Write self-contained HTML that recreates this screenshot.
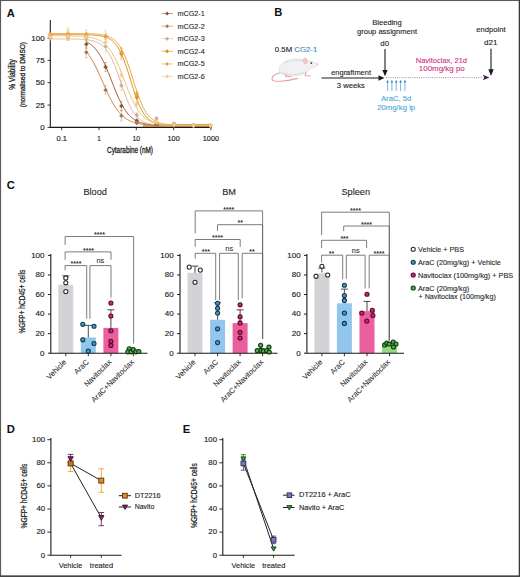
<!DOCTYPE html><html><head><meta charset="utf-8"><style>html,body{margin:0;padding:0;background:#fff;width:520px;height:577px;overflow:hidden}svg{display:block}</style></head><body><svg width="520" height="577" viewBox="0 0 520 577" font-family='"Liberation Sans", sans-serif'>
<rect x="0" y="0" width="520" height="577" fill="#fff"/>
<text x="6.8" y="16.6" font-size="11.2" fill="#111" text-anchor="start" font-weight="bold">A</text>
<path d="M47.5 127.40H50.3" stroke="#222" stroke-width="0.9"/>
<text x="44.6" y="129.9" font-size="7.1" fill="#1e1e1e" text-anchor="end" textLength="4.45" lengthAdjust="spacingAndGlyphs" stroke="#1e1e1e" stroke-width="0.15">0</text>
<path d="M47.5 105.05H50.3" stroke="#222" stroke-width="0.9"/>
<text x="44.6" y="107.55" font-size="7.1" fill="#1e1e1e" text-anchor="end" textLength="8.9" lengthAdjust="spacingAndGlyphs" stroke="#1e1e1e" stroke-width="0.15">25</text>
<path d="M47.5 82.70H50.3" stroke="#222" stroke-width="0.9"/>
<text x="44.6" y="85.2" font-size="7.1" fill="#1e1e1e" text-anchor="end" textLength="8.9" lengthAdjust="spacingAndGlyphs" stroke="#1e1e1e" stroke-width="0.15">50</text>
<path d="M47.5 60.35H50.3" stroke="#222" stroke-width="0.9"/>
<text x="44.6" y="62.85" font-size="7.1" fill="#1e1e1e" text-anchor="end" textLength="8.9" lengthAdjust="spacingAndGlyphs" stroke="#1e1e1e" stroke-width="0.15">75</text>
<path d="M47.5 38.00H50.3" stroke="#222" stroke-width="0.9"/>
<text x="44.6" y="40.5" font-size="7.1" fill="#1e1e1e" text-anchor="end" textLength="13.35" lengthAdjust="spacingAndGlyphs" stroke="#1e1e1e" stroke-width="0.15">100</text>
<path d="M61.70 127.4V130.20000000000002" stroke="#222" stroke-width="0.9"/>
<text x="61.7" y="140.8" font-size="7.1" fill="#1e1e1e" text-anchor="middle" textLength="10.5" lengthAdjust="spacingAndGlyphs" stroke="#1e1e1e" stroke-width="0.15">0.1</text>
<path d="M99.00 127.4V130.20000000000002" stroke="#222" stroke-width="0.9"/>
<text x="99.0" y="140.8" font-size="7.1" fill="#1e1e1e" text-anchor="middle" textLength="3.5" lengthAdjust="spacingAndGlyphs" stroke="#1e1e1e" stroke-width="0.15">1</text>
<path d="M136.30 127.4V130.20000000000002" stroke="#222" stroke-width="0.9"/>
<text x="136.3" y="140.8" font-size="7.1" fill="#1e1e1e" text-anchor="middle" textLength="7.6" lengthAdjust="spacingAndGlyphs" stroke="#1e1e1e" stroke-width="0.15">10</text>
<path d="M173.60 127.4V130.20000000000002" stroke="#222" stroke-width="0.9"/>
<text x="173.6" y="140.8" font-size="7.1" fill="#1e1e1e" text-anchor="middle" textLength="12.3" lengthAdjust="spacingAndGlyphs" stroke="#1e1e1e" stroke-width="0.15">100</text>
<path d="M210.90 127.4V130.20000000000002" stroke="#222" stroke-width="0.9"/>
<text x="210.9" y="140.8" font-size="7.1" fill="#1e1e1e" text-anchor="middle" textLength="16.3" lengthAdjust="spacingAndGlyphs" stroke="#1e1e1e" stroke-width="0.15">1000</text>
<text x="130" y="153.3" font-size="8.2" fill="#1e1e1e" text-anchor="middle" textLength="46" lengthAdjust="spacingAndGlyphs" stroke="#1e1e1e" stroke-width="0.3">Cytarabine (nM)</text>
<text transform="translate(15.2,74.4) rotate(-90)" font-size="8.3" fill="#1e1e1e" text-anchor="middle" textLength="30.5" lengthAdjust="spacingAndGlyphs" stroke="#1e1e1e" stroke-width="0.3">% Viability</text>
<text transform="translate(25.2,74.6) rotate(-90)" font-size="7.6" fill="#1e1e1e" text-anchor="middle" textLength="65.3" lengthAdjust="spacingAndGlyphs" stroke="#1e1e1e" stroke-width="0.3">(normalised to DMSO)</text>
<path d="M143 125.4H211" stroke="#e09535" stroke-width="2.6" opacity="0.9"/>
<polyline points="86.3,41.82 87.3,42.32 88.3,42.87 89.3,43.48 90.3,44.16 91.3,44.91 92.3,45.73 93.3,46.64 94.3,47.63 95.3,48.71 96.3,49.90 97.3,51.18 98.3,52.58 99.3,54.08 100.3,55.70 101.3,57.43 102.3,59.28 103.3,61.24 104.3,63.30 105.3,65.47 106.3,67.73 107.3,70.08 108.3,72.50 109.3,74.98 110.3,77.50 111.3,80.05 112.3,82.61 113.3,85.16 114.3,87.69 115.3,90.17 116.3,92.61 117.3,94.97 118.3,97.25 119.3,99.44 120.3,101.52 121.3,103.50 122.3,105.37 123.3,107.13 124.3,108.77 125.3,110.30 126.3,111.71 127.3,113.02 128.3,114.22 129.3,115.33 130.3,116.34 131.3,117.26 132.3,118.10 133.3,118.86 134.3,119.55 135.3,120.17 136.3,120.74 137.3,121.25 138.3,121.70 139.3,122.12 140.3,122.49 141.3,122.82 142.3,123.12 143.3,123.38 144.3,123.62 145.3,123.84 146.3,124.03 147.3,124.20 148.3,124.35 149.3,124.49 150.3,124.61 151.3,124.72 152.3,124.82 153.3,124.90 154.3,124.98 155.3,125.05 156.3,125.11 157.3,125.17 158.3,125.21 159.3,125.26 160.3,125.30 161.3,125.33 162.3,125.36 163.3,125.39 164.3,125.41 165.3,125.44 166.3,125.45 167.3,125.47 168.3,125.49 169.3,125.50 170.3,125.51 171.3,125.52 172.3,125.53 173.3,125.54 174.3,125.55 175.3,125.56 176.3,125.56 177.3,125.57 178.3,125.57 179.3,125.58 180.3,125.58 181.3,125.58 182.3,125.59 183.3,125.59 184.3,125.59 185.3,125.59 186.3,125.60 187.3,125.60 188.3,125.60 189.3,125.60 190.3,125.60 191.3,125.60 192.3,125.60 193.3,125.61 194.3,125.61 195.3,125.61 196.3,125.61 197.3,125.61 198.3,125.61 199.3,125.61 200.3,125.61 201.3,125.61 202.3,125.61 203.3,125.61 204.3,125.61 205.3,125.61 206.3,125.61 207.3,125.61 208.3,125.61 209.3,125.61 210.3,125.61" fill="none" stroke="#9a6035" stroke-width="1"/>
<polyline points="86.3,51.56 87.3,52.79 88.3,54.12 89.3,55.53 90.3,57.04 91.3,58.64 92.3,60.33 93.3,62.10 94.3,63.97 95.3,65.91 96.3,67.93 97.3,70.01 98.3,72.16 99.3,74.35 100.3,76.58 101.3,78.84 102.3,81.12 103.3,83.40 104.3,85.67 105.3,87.93 106.3,90.14 107.3,92.32 108.3,94.44 109.3,96.50 110.3,98.49 111.3,100.40 112.3,102.23 113.3,103.97 114.3,105.62 115.3,107.18 116.3,108.65 117.3,110.03 118.3,111.32 119.3,112.53 120.3,113.64 121.3,114.68 122.3,115.64 123.3,116.52 124.3,117.34 125.3,118.08 126.3,118.77 127.3,119.40 128.3,119.98 129.3,120.50 130.3,120.98 131.3,121.42 132.3,121.81 133.3,122.17 134.3,122.50 135.3,122.80 136.3,123.07 137.3,123.31 138.3,123.54 139.3,123.74 140.3,123.92 141.3,124.08 142.3,124.23 143.3,124.37 144.3,124.49 145.3,124.60 146.3,124.70 147.3,124.79 148.3,124.87 149.3,124.94 150.3,125.01 151.3,125.07 152.3,125.12 153.3,125.17 154.3,125.21 155.3,125.25 156.3,125.29 157.3,125.32 158.3,125.35 159.3,125.37 160.3,125.40 161.3,125.42 162.3,125.44 163.3,125.46 164.3,125.47 165.3,125.48 166.3,125.50 167.3,125.51 168.3,125.52 169.3,125.53 170.3,125.54 171.3,125.54 172.3,125.55 173.3,125.56 174.3,125.56 175.3,125.57 176.3,125.57 177.3,125.58 178.3,125.58 179.3,125.58 180.3,125.59 181.3,125.59 182.3,125.59 183.3,125.59 184.3,125.59 185.3,125.60 186.3,125.60 187.3,125.60 188.3,125.60 189.3,125.60 190.3,125.60 191.3,125.60 192.3,125.60 193.3,125.61 194.3,125.61 195.3,125.61 196.3,125.61 197.3,125.61 198.3,125.61 199.3,125.61 200.3,125.61 201.3,125.61 202.3,125.61 203.3,125.61 204.3,125.61 205.3,125.61 206.3,125.61 207.3,125.61 208.3,125.61 209.3,125.61 210.3,125.61" fill="none" stroke="#c88545" stroke-width="1"/>
<polyline points="50.3,38.90 51.3,38.90 52.3,38.90 53.3,38.90 54.3,38.90 55.3,38.91 56.3,38.91 57.3,38.91 58.3,38.91 59.3,38.92 60.3,38.92 61.3,38.92 62.3,38.93 63.3,38.93 64.3,38.94 65.3,38.94 66.3,38.95 67.3,38.96 68.3,38.97 69.3,38.98 70.3,38.99 71.3,39.00 72.3,39.02 73.3,39.04 74.3,39.06 75.3,39.08 76.3,39.11 77.3,39.14 78.3,39.17 79.3,39.21 80.3,39.26 81.3,39.31 82.3,39.37 83.3,39.44 84.3,39.51 85.3,39.60 86.3,39.71 87.3,39.82 88.3,39.95 89.3,40.11 90.3,40.28 91.3,40.47 92.3,40.70 93.3,40.95 94.3,41.24 95.3,41.57 96.3,41.95 97.3,42.37 98.3,42.85 99.3,43.39 100.3,44.01 101.3,44.70 102.3,45.47 103.3,46.34 104.3,47.32 105.3,48.40 106.3,49.61 107.3,50.94 108.3,52.41 109.3,54.03 110.3,55.79 111.3,57.70 112.3,59.77 113.3,61.99 114.3,64.35 115.3,66.84 116.3,69.46 117.3,72.19 118.3,75.00 119.3,77.87 120.3,80.79 121.3,83.72 122.3,86.63 123.3,89.51 124.3,92.32 125.3,95.04 126.3,97.66 127.3,100.16 128.3,102.52 129.3,104.74 130.3,106.80 131.3,108.72 132.3,110.48 133.3,112.09 134.3,113.57 135.3,114.90 136.3,116.11 137.3,117.19 138.3,118.16 139.3,119.03 140.3,119.81 141.3,120.50 142.3,121.11 143.3,121.66 144.3,122.14 145.3,122.56 146.3,122.93 147.3,123.26 148.3,123.55 149.3,123.81 150.3,124.03 151.3,124.23 152.3,124.40 153.3,124.55 154.3,124.68 155.3,124.80 156.3,124.90 157.3,124.99 158.3,125.07 159.3,125.14 160.3,125.20 161.3,125.25 162.3,125.30 163.3,125.34 164.3,125.37 165.3,125.40 166.3,125.43 167.3,125.45 168.3,125.47 169.3,125.49 170.3,125.50 171.3,125.52 172.3,125.53 173.3,125.54 174.3,125.55 175.3,125.56 176.3,125.56 177.3,125.57 178.3,125.58 179.3,125.58 180.3,125.58 181.3,125.59 182.3,125.59 183.3,125.59 184.3,125.60 185.3,125.60 186.3,125.60 187.3,125.60 188.3,125.60 189.3,125.60 190.3,125.60 191.3,125.61 192.3,125.61 193.3,125.61 194.3,125.61 195.3,125.61 196.3,125.61 197.3,125.61 198.3,125.61 199.3,125.61 200.3,125.61 201.3,125.61 202.3,125.61 203.3,125.61 204.3,125.61 205.3,125.61 206.3,125.61 207.3,125.61 208.3,125.61 209.3,125.61 210.3,125.61" fill="none" stroke="#e8b890" stroke-width="1"/>
<polyline points="50.3,34.60 51.3,34.60 52.3,34.60 53.3,34.60 54.3,34.60 55.3,34.60 56.3,34.61 57.3,34.61 58.3,34.61 59.3,34.61 60.3,34.61 61.3,34.61 62.3,34.61 63.3,34.61 64.3,34.61 65.3,34.61 66.3,34.61 67.3,34.61 68.3,34.62 69.3,34.62 70.3,34.62 71.3,34.62 72.3,34.62 73.3,34.63 74.3,34.63 75.3,34.64 76.3,34.64 77.3,34.65 78.3,34.65 79.3,34.66 80.3,34.67 81.3,34.68 82.3,34.69 83.3,34.71 84.3,34.72 85.3,34.74 86.3,34.76 87.3,34.79 88.3,34.82 89.3,34.85 90.3,34.89 91.3,34.93 92.3,34.98 93.3,35.04 94.3,35.11 95.3,35.19 96.3,35.28 97.3,35.38 98.3,35.50 99.3,35.63 100.3,35.79 101.3,35.97 102.3,36.17 103.3,36.41 104.3,36.68 105.3,36.99 106.3,37.35 107.3,37.75 108.3,38.22 109.3,38.75 110.3,39.35 111.3,40.03 112.3,40.81 113.3,41.69 114.3,42.68 115.3,43.80 116.3,45.05 117.3,46.44 118.3,47.99 119.3,49.71 120.3,51.60 121.3,53.66 122.3,55.90 123.3,58.32 124.3,60.91 125.3,63.66 126.3,66.55 127.3,69.58 128.3,72.70 129.3,75.89 130.3,79.13 131.3,82.38 132.3,85.61 133.3,88.78 134.3,91.86 135.3,94.83 136.3,97.67 137.3,100.36 138.3,102.88 139.3,105.23 140.3,107.40 141.3,109.39 142.3,111.21 143.3,112.86 144.3,114.35 145.3,115.68 146.3,116.88 147.3,117.94 148.3,118.89 149.3,119.73 150.3,120.46 151.3,121.12 152.3,121.69 153.3,122.19 154.3,122.63 155.3,123.02 156.3,123.35 157.3,123.65 158.3,123.90 159.3,124.13 160.3,124.32 161.3,124.49 162.3,124.64 163.3,124.77 164.3,124.88 165.3,124.98 166.3,125.06 167.3,125.13 168.3,125.20 169.3,125.25 170.3,125.30 171.3,125.34 172.3,125.38 173.3,125.41 174.3,125.44 175.3,125.46 176.3,125.48 177.3,125.50 178.3,125.51 179.3,125.53 180.3,125.54 181.3,125.55 182.3,125.56 183.3,125.56 184.3,125.57 185.3,125.58 186.3,125.58 187.3,125.58 188.3,125.59 189.3,125.59 190.3,125.59 191.3,125.60 192.3,125.60 193.3,125.60 194.3,125.60 195.3,125.60 196.3,125.60 197.3,125.61 198.3,125.61 199.3,125.61 200.3,125.61 201.3,125.61 202.3,125.61 203.3,125.61 204.3,125.61 205.3,125.61 206.3,125.61 207.3,125.61 208.3,125.61 209.3,125.61 210.3,125.61" fill="none" stroke="#dc9418" stroke-width="1"/>
<polyline points="50.3,33.53 51.3,33.53 52.3,33.53 53.3,33.53 54.3,33.53 55.3,33.53 56.3,33.53 57.3,33.53 58.3,33.53 59.3,33.53 60.3,33.53 61.3,33.53 62.3,33.53 63.3,33.54 64.3,33.54 65.3,33.54 66.3,33.54 67.3,33.54 68.3,33.54 69.3,33.54 70.3,33.55 71.3,33.55 72.3,33.55 73.3,33.55 74.3,33.56 75.3,33.56 76.3,33.56 77.3,33.57 78.3,33.58 79.3,33.58 80.3,33.59 81.3,33.60 82.3,33.61 83.3,33.62 84.3,33.64 85.3,33.65 86.3,33.67 87.3,33.69 88.3,33.71 89.3,33.74 90.3,33.77 91.3,33.81 92.3,33.85 93.3,33.90 94.3,33.95 95.3,34.02 96.3,34.09 97.3,34.17 98.3,34.26 99.3,34.37 100.3,34.50 101.3,34.64 102.3,34.80 103.3,34.99 104.3,35.20 105.3,35.44 106.3,35.72 107.3,36.04 108.3,36.40 109.3,36.82 110.3,37.29 111.3,37.82 112.3,38.42 113.3,39.11 114.3,39.88 115.3,40.75 116.3,41.73 117.3,42.83 118.3,44.06 119.3,45.42 120.3,46.94 121.3,48.61 122.3,50.44 123.3,52.44 124.3,54.61 125.3,56.94 126.3,59.45 127.3,62.10 128.3,64.90 129.3,67.83 130.3,70.86 131.3,73.96 132.3,77.12 133.3,80.30 134.3,83.47 135.3,86.60 136.3,89.67 137.3,92.64 138.3,95.49 139.3,98.20 140.3,100.77 141.3,103.17 142.3,105.41 143.3,107.48 144.3,109.38 145.3,111.11 146.3,112.68 147.3,114.11 148.3,115.39 149.3,116.54 150.3,117.56 151.3,118.48 152.3,119.29 153.3,120.01 154.3,120.64 155.3,121.20 156.3,121.70 157.3,122.13 158.3,122.51 159.3,122.85 160.3,123.14 161.3,123.40 162.3,123.63 163.3,123.82 164.3,123.99 165.3,124.14 166.3,124.28 167.3,124.39 168.3,124.49 169.3,124.58 170.3,124.65 171.3,124.72 172.3,124.78 173.3,124.83 174.3,124.87 175.3,124.91 176.3,124.94 177.3,124.97 178.3,125.00 179.3,125.02 180.3,125.04 181.3,125.05 182.3,125.07 183.3,125.08 184.3,125.09 185.3,125.10 186.3,125.11 187.3,125.12 188.3,125.12 189.3,125.13 190.3,125.13 191.3,125.14 192.3,125.14 193.3,125.14 194.3,125.15 195.3,125.15 196.3,125.15 197.3,125.15 198.3,125.15 199.3,125.16 200.3,125.16 201.3,125.16 202.3,125.16 203.3,125.16 204.3,125.16 205.3,125.16 206.3,125.16 207.3,125.16 208.3,125.16 209.3,125.16 210.3,125.16" fill="none" stroke="#eba445" stroke-width="1"/>
<polyline points="50.3,35.78 51.3,35.78 52.3,35.79 53.3,35.79 54.3,35.79 55.3,35.79 56.3,35.80 57.3,35.80 58.3,35.81 59.3,35.81 60.3,35.82 61.3,35.82 62.3,35.83 63.3,35.84 64.3,35.85 65.3,35.86 66.3,35.87 67.3,35.88 68.3,35.90 69.3,35.91 70.3,35.93 71.3,35.95 72.3,35.97 73.3,36.00 74.3,36.03 75.3,36.06 76.3,36.09 77.3,36.13 78.3,36.18 79.3,36.23 80.3,36.29 81.3,36.35 82.3,36.42 83.3,36.51 84.3,36.60 85.3,36.70 86.3,36.81 87.3,36.94 88.3,37.08 89.3,37.24 90.3,37.42 91.3,37.62 92.3,37.84 93.3,38.09 94.3,38.37 95.3,38.68 96.3,39.03 97.3,39.41 98.3,39.84 99.3,40.32 100.3,40.85 101.3,41.44 102.3,42.09 103.3,42.80 104.3,43.60 105.3,44.47 106.3,45.43 107.3,46.48 108.3,47.62 109.3,48.87 110.3,50.23 111.3,51.69 112.3,53.27 113.3,54.97 114.3,56.79 115.3,58.72 116.3,60.76 117.3,62.91 118.3,65.16 119.3,67.51 120.3,69.93 121.3,72.43 122.3,74.97 123.3,77.56 124.3,80.17 125.3,82.78 126.3,85.37 127.3,87.94 128.3,90.46 129.3,92.91 130.3,95.29 131.3,97.58 132.3,99.77 133.3,101.86 134.3,103.83 135.3,105.69 136.3,107.44 137.3,109.07 138.3,110.58 139.3,111.98 140.3,113.27 141.3,114.46 142.3,115.54 143.3,116.54 144.3,117.44 145.3,118.27 146.3,119.01 147.3,119.69 148.3,120.30 149.3,120.85 150.3,121.35 151.3,121.80 152.3,122.20 153.3,122.56 154.3,122.89 155.3,123.18 156.3,123.44 157.3,123.67 158.3,123.88 159.3,124.07 160.3,124.24 161.3,124.38 162.3,124.52 163.3,124.64 164.3,124.74 165.3,124.84 166.3,124.92 167.3,125.00 168.3,125.06 169.3,125.12 170.3,125.18 171.3,125.22 172.3,125.27 173.3,125.30 174.3,125.34 175.3,125.37 176.3,125.39 177.3,125.42 178.3,125.44 179.3,125.46 180.3,125.48 181.3,125.49 182.3,125.50 183.3,125.52 184.3,125.53 185.3,125.54 186.3,125.54 187.3,125.55 188.3,125.56 189.3,125.56 190.3,125.57 191.3,125.57 192.3,125.58 193.3,125.58 194.3,125.59 195.3,125.59 196.3,125.59 197.3,125.59 198.3,125.60 199.3,125.60 200.3,125.60 201.3,125.60 202.3,125.60 203.3,125.60 204.3,125.60 205.3,125.60 206.3,125.61 207.3,125.61 208.3,125.61 209.3,125.61 210.3,125.61" fill="none" stroke="#f0c080" stroke-width="1"/>
<path d="M50.3 20V127.4H211.5" fill="none" stroke="#1a1a1a" stroke-width="1.1"/>
<path d="M86.3 40.1V48.4M84.89999999999999 40.1h2.8M84.89999999999999 48.4h2.8" stroke="#8a5530" stroke-width="0.7" opacity="0.55"/>
<rect x="84.7" y="42.7" width="3.2" height="3.2" fill="#8a5530" transform="rotate(45 86.3 44.3)"/>
<path d="M105.6 62.5V71.7M104.19999999999999 62.5h2.8M104.19999999999999 71.7h2.8" stroke="#8a5530" stroke-width="0.7" opacity="0.55"/>
<rect x="104.0" y="65.5" width="3.2" height="3.2" fill="#8a5530" transform="rotate(45 105.6 67.1)"/>
<path d="M121.4 101.2V110.7M120.0 101.2h2.8M120.0 110.7h2.8" stroke="#8a5530" stroke-width="0.7" opacity="0.55"/>
<rect x="119.80000000000001" y="104.3" width="3.2" height="3.2" fill="#8a5530" transform="rotate(45 121.4 105.9)"/>
<path d="M136.8 119.2V122.2M135.4 119.2h2.8M135.4 122.2h2.8" stroke="#8a5530" stroke-width="0.7" opacity="0.55"/>
<rect x="135.20000000000002" y="119.1" width="3.2" height="3.2" fill="#8a5530" transform="rotate(45 136.8 120.7)"/>
<path d="M156.5 123.4V126.1M155.1 123.4h2.8M155.1 126.1h2.8" stroke="#8a5530" stroke-width="0.7" opacity="0.55"/>
<rect x="154.9" y="123.1" width="3.2" height="3.2" fill="#8a5530" transform="rotate(45 156.5 124.7)"/>
<path d="M174 123.6V126.7M172.6 123.6h2.8M172.6 126.7h2.8" stroke="#8a5530" stroke-width="0.7" opacity="0.55"/>
<rect x="172.4" y="123.6" width="3.2" height="3.2" fill="#8a5530" transform="rotate(45 174 125.2)"/>
<path d="M193.5 125.0V126.2M192.1 125.0h2.8M192.1 126.2h2.8" stroke="#8a5530" stroke-width="0.7" opacity="0.55"/>
<rect x="191.9" y="124.0" width="3.2" height="3.2" fill="#8a5530" transform="rotate(45 193.5 125.6)"/>
<path d="M210.5 124.5V126.7M209.1 124.5h2.8M209.1 126.7h2.8" stroke="#8a5530" stroke-width="0.7" opacity="0.55"/>
<rect x="208.9" y="124.0" width="3.2" height="3.2" fill="#8a5530" transform="rotate(45 210.5 125.6)"/>
<path d="M86.3 47.0V57.6M84.89999999999999 47.0h2.8M84.89999999999999 57.6h2.8" stroke="#a87850" stroke-width="0.7" opacity="0.55"/>
<rect x="84.7" y="50.7" width="3.2" height="3.2" fill="#a87850" transform="rotate(45 86.3 52.3)"/>
<path d="M105.6 85.6V94.1M104.19999999999999 85.6h2.8M104.19999999999999 94.1h2.8" stroke="#a87850" stroke-width="0.7" opacity="0.55"/>
<rect x="104.0" y="88.3" width="3.2" height="3.2" fill="#a87850" transform="rotate(45 105.6 89.9)"/>
<path d="M121.4 110.6V120.9M120.0 110.6h2.8M120.0 120.9h2.8" stroke="#a87850" stroke-width="0.7" opacity="0.55"/>
<rect x="119.80000000000001" y="114.2" width="3.2" height="3.2" fill="#a87850" transform="rotate(45 121.4 115.8)"/>
<path d="M136.8 122.2V123.6M135.4 122.2h2.8M135.4 123.6h2.8" stroke="#a87850" stroke-width="0.7" opacity="0.55"/>
<rect x="135.20000000000002" y="121.3" width="3.2" height="3.2" fill="#a87850" transform="rotate(45 136.8 122.9)"/>
<path d="M156.5 124.1V126.2M155.1 124.1h2.8M155.1 126.2h2.8" stroke="#a87850" stroke-width="0.7" opacity="0.55"/>
<rect x="154.9" y="123.6" width="3.2" height="3.2" fill="#a87850" transform="rotate(45 156.5 125.2)"/>
<path d="M174 124.8V126.5M172.6 124.8h2.8M172.6 126.5h2.8" stroke="#a87850" stroke-width="0.7" opacity="0.55"/>
<rect x="172.4" y="124.0" width="3.2" height="3.2" fill="#a87850" transform="rotate(45 174 125.6)"/>
<path d="M193.5 124.5V126.8M192.1 124.5h2.8M192.1 126.8h2.8" stroke="#a87850" stroke-width="0.7" opacity="0.55"/>
<rect x="191.9" y="124.0" width="3.2" height="3.2" fill="#a87850" transform="rotate(45 193.5 125.6)"/>
<path d="M210.5 124.4V126.8M209.1 124.4h2.8M209.1 126.8h2.8" stroke="#a87850" stroke-width="0.7" opacity="0.55"/>
<rect x="208.9" y="124.0" width="3.2" height="3.2" fill="#a87850" transform="rotate(45 210.5 125.6)"/>
<path d="M50.3 36.0V40.0M48.9 36.0h2.8M48.9 40.0h2.8" stroke="#c8ab98" stroke-width="0.7" opacity="0.55"/>
<rect x="48.699999999999996" y="36.4" width="3.2" height="3.2" fill="#c8ab98" transform="rotate(45 50.3 38.0)"/>
<path d="M68 34.3V39.9M66.6 34.3h2.8M66.6 39.9h2.8" stroke="#c8ab98" stroke-width="0.7" opacity="0.55"/>
<rect x="66.4" y="35.5" width="3.2" height="3.2" fill="#c8ab98" transform="rotate(45 68 37.1)"/>
<path d="M86.3 35.0V41.0M84.89999999999999 35.0h2.8M84.89999999999999 41.0h2.8" stroke="#c8ab98" stroke-width="0.7" opacity="0.55"/>
<rect x="84.7" y="36.4" width="3.2" height="3.2" fill="#c8ab98" transform="rotate(45 86.3 38.0)"/>
<path d="M105.6 41.3V51.7M104.19999999999999 41.3h2.8M104.19999999999999 51.7h2.8" stroke="#c8ab98" stroke-width="0.7" opacity="0.55"/>
<rect x="104.0" y="44.9" width="3.2" height="3.2" fill="#c8ab98" transform="rotate(45 105.6 46.5)"/>
<path d="M121.4 80.7V90.1M120.0 80.7h2.8M120.0 90.1h2.8" stroke="#c8ab98" stroke-width="0.7" opacity="0.55"/>
<rect x="119.80000000000001" y="83.8" width="3.2" height="3.2" fill="#c8ab98" transform="rotate(45 121.4 85.4)"/>
<path d="M136.8 112.3V117.4M135.4 112.3h2.8M135.4 117.4h2.8" stroke="#c8ab98" stroke-width="0.7" opacity="0.55"/>
<rect x="135.20000000000002" y="113.3" width="3.2" height="3.2" fill="#c8ab98" transform="rotate(45 136.8 114.9)"/>
<path d="M156.5 117.1V119.9M155.1 117.1h2.8M155.1 119.9h2.8" stroke="#c8ab98" stroke-width="0.7" opacity="0.55"/>
<rect x="154.9" y="116.9" width="3.2" height="3.2" fill="#c8ab98" transform="rotate(45 156.5 118.5)"/>
<path d="M174 124.0V125.5M172.6 124.0h2.8M172.6 125.5h2.8" stroke="#c8ab98" stroke-width="0.7" opacity="0.55"/>
<rect x="172.4" y="123.1" width="3.2" height="3.2" fill="#c8ab98" transform="rotate(45 174 124.7)"/>
<path d="M193.5 124.4V126.8M192.1 124.4h2.8M192.1 126.8h2.8" stroke="#c8ab98" stroke-width="0.7" opacity="0.55"/>
<rect x="191.9" y="124.0" width="3.2" height="3.2" fill="#c8ab98" transform="rotate(45 193.5 125.6)"/>
<path d="M210.5 124.9V126.3M209.1 124.9h2.8M209.1 126.3h2.8" stroke="#c8ab98" stroke-width="0.7" opacity="0.55"/>
<rect x="208.9" y="124.0" width="3.2" height="3.2" fill="#c8ab98" transform="rotate(45 210.5 125.6)"/>
<path d="M50.3 33.3V37.3M48.9 33.3h2.8M48.9 37.3h2.8" stroke="#d8900c" stroke-width="0.7" opacity="0.55"/>
<rect x="48.699999999999996" y="33.7" width="3.2" height="3.2" fill="#d8900c" transform="rotate(45 50.3 35.3)"/>
<path d="M68 30.3V40.4M66.6 30.3h2.8M66.6 40.4h2.8" stroke="#d8900c" stroke-width="0.7" opacity="0.55"/>
<rect x="66.4" y="33.7" width="3.2" height="3.2" fill="#d8900c" transform="rotate(45 68 35.3)"/>
<path d="M86.3 32.6V38.1M84.89999999999999 32.6h2.8M84.89999999999999 38.1h2.8" stroke="#d8900c" stroke-width="0.7" opacity="0.55"/>
<rect x="84.7" y="33.7" width="3.2" height="3.2" fill="#d8900c" transform="rotate(45 86.3 35.3)"/>
<path d="M105.6 33.9V39.4M104.19999999999999 33.9h2.8M104.19999999999999 39.4h2.8" stroke="#d8900c" stroke-width="0.7" opacity="0.55"/>
<rect x="104.0" y="35.1" width="3.2" height="3.2" fill="#d8900c" transform="rotate(45 105.6 36.7)"/>
<path d="M121.4 48.7V59.5M120.0 48.7h2.8M120.0 59.5h2.8" stroke="#d8900c" stroke-width="0.7" opacity="0.55"/>
<rect x="119.80000000000001" y="52.5" width="3.2" height="3.2" fill="#d8900c" transform="rotate(45 121.4 54.1)"/>
<path d="M136.8 92.4V102.5M135.4 92.4h2.8M135.4 102.5h2.8" stroke="#d8900c" stroke-width="0.7" opacity="0.55"/>
<rect x="135.20000000000002" y="95.9" width="3.2" height="3.2" fill="#d8900c" transform="rotate(45 136.8 97.5)"/>
<path d="M156.5 122.0V123.8M155.1 122.0h2.8M155.1 123.8h2.8" stroke="#d8900c" stroke-width="0.7" opacity="0.55"/>
<rect x="154.9" y="121.3" width="3.2" height="3.2" fill="#d8900c" transform="rotate(45 156.5 122.9)"/>
<path d="M174 122.3V125.4M172.6 122.3h2.8M172.6 125.4h2.8" stroke="#d8900c" stroke-width="0.7" opacity="0.55"/>
<rect x="172.4" y="122.2" width="3.2" height="3.2" fill="#d8900c" transform="rotate(45 174 123.8)"/>
<path d="M193.5 124.0V126.3M192.1 124.0h2.8M192.1 126.3h2.8" stroke="#d8900c" stroke-width="0.7" opacity="0.55"/>
<rect x="191.9" y="123.6" width="3.2" height="3.2" fill="#d8900c" transform="rotate(45 193.5 125.2)"/>
<path d="M210.5 124.3V126.9M209.1 124.3h2.8M209.1 126.9h2.8" stroke="#d8900c" stroke-width="0.7" opacity="0.55"/>
<rect x="208.9" y="124.0" width="3.2" height="3.2" fill="#d8900c" transform="rotate(45 210.5 125.6)"/>
<path d="M50.3 31.7V37.1M48.9 31.7h2.8M48.9 37.1h2.8" stroke="#e8a048" stroke-width="0.7" opacity="0.55"/>
<rect x="48.699999999999996" y="32.8" width="3.2" height="3.2" fill="#e8a048" transform="rotate(45 50.3 34.4)"/>
<path d="M68 28.2V38.8M66.6 28.2h2.8M66.6 38.8h2.8" stroke="#e8a048" stroke-width="0.7" opacity="0.55"/>
<rect x="66.4" y="31.9" width="3.2" height="3.2" fill="#e8a048" transform="rotate(45 68 33.5)"/>
<path d="M86.3 30.0V38.8M84.89999999999999 30.0h2.8M84.89999999999999 38.8h2.8" stroke="#e8a048" stroke-width="0.7" opacity="0.55"/>
<rect x="84.7" y="32.8" width="3.2" height="3.2" fill="#e8a048" transform="rotate(45 86.3 34.4)"/>
<path d="M105.6 30.8V41.6M104.19999999999999 30.8h2.8M104.19999999999999 41.6h2.8" stroke="#e8a048" stroke-width="0.7" opacity="0.55"/>
<rect x="104.0" y="34.6" width="3.2" height="3.2" fill="#e8a048" transform="rotate(45 105.6 36.2)"/>
<path d="M121.4 47.2V57.4M120.0 47.2h2.8M120.0 57.4h2.8" stroke="#e8a048" stroke-width="0.7" opacity="0.55"/>
<rect x="119.80000000000001" y="50.7" width="3.2" height="3.2" fill="#e8a048" transform="rotate(45 121.4 52.3)"/>
<path d="M136.8 91.3V97.4M135.4 91.3h2.8M135.4 97.4h2.8" stroke="#e8a048" stroke-width="0.7" opacity="0.55"/>
<rect x="135.20000000000002" y="92.7" width="3.2" height="3.2" fill="#e8a048" transform="rotate(45 136.8 94.3)"/>
<path d="M156.5 121.1V123.0M155.1 121.1h2.8M155.1 123.0h2.8" stroke="#e8a048" stroke-width="0.7" opacity="0.55"/>
<rect x="154.9" y="120.4" width="3.2" height="3.2" fill="#e8a048" transform="rotate(45 156.5 122.0)"/>
<path d="M174 123.5V125.0M172.6 123.5h2.8M172.6 125.0h2.8" stroke="#e8a048" stroke-width="0.7" opacity="0.55"/>
<rect x="172.4" y="122.7" width="3.2" height="3.2" fill="#e8a048" transform="rotate(45 174 124.3)"/>
<path d="M193.5 124.9V126.4M192.1 124.9h2.8M192.1 126.4h2.8" stroke="#e8a048" stroke-width="0.7" opacity="0.55"/>
<rect x="191.9" y="124.0" width="3.2" height="3.2" fill="#e8a048" transform="rotate(45 193.5 125.6)"/>
<path d="M210.5 124.9V126.3M209.1 124.9h2.8M209.1 126.3h2.8" stroke="#e8a048" stroke-width="0.7" opacity="0.55"/>
<rect x="208.9" y="124.0" width="3.2" height="3.2" fill="#e8a048" transform="rotate(45 210.5 125.6)"/>
<path d="M50.3 34.1V40.2M48.9 34.1h2.8M48.9 40.2h2.8" stroke="#f2cc98" stroke-width="0.7" opacity="0.55"/>
<rect x="48.699999999999996" y="35.5" width="3.2" height="3.2" fill="#f2cc98" transform="rotate(45 50.3 37.1)"/>
<path d="M68 32.1V40.3M66.6 32.1h2.8M66.6 40.3h2.8" stroke="#f2cc98" stroke-width="0.7" opacity="0.55"/>
<rect x="66.4" y="34.6" width="3.2" height="3.2" fill="#f2cc98" transform="rotate(45 68 36.2)"/>
<path d="M86.3 35.1V39.1M84.89999999999999 35.1h2.8M84.89999999999999 39.1h2.8" stroke="#f2cc98" stroke-width="0.7" opacity="0.55"/>
<rect x="84.7" y="35.5" width="3.2" height="3.2" fill="#f2cc98" transform="rotate(45 86.3 37.1)"/>
<path d="M105.6 38.1V46.8M104.19999999999999 38.1h2.8M104.19999999999999 46.8h2.8" stroke="#f2cc98" stroke-width="0.7" opacity="0.55"/>
<rect x="104.0" y="40.9" width="3.2" height="3.2" fill="#f2cc98" transform="rotate(45 105.6 42.5)"/>
<path d="M121.4 71.7V78.1M120.0 71.7h2.8M120.0 78.1h2.8" stroke="#f2cc98" stroke-width="0.7" opacity="0.55"/>
<rect x="119.80000000000001" y="73.3" width="3.2" height="3.2" fill="#f2cc98" transform="rotate(45 121.4 74.9)"/>
<path d="M136.8 101.1V107.2M135.4 101.1h2.8M135.4 107.2h2.8" stroke="#f2cc98" stroke-width="0.7" opacity="0.55"/>
<rect x="135.20000000000002" y="102.6" width="3.2" height="3.2" fill="#f2cc98" transform="rotate(45 136.8 104.2)"/>
<path d="M156.5 120.6V123.5M155.1 120.6h2.8M155.1 123.5h2.8" stroke="#f2cc98" stroke-width="0.7" opacity="0.55"/>
<rect x="154.9" y="120.4" width="3.2" height="3.2" fill="#f2cc98" transform="rotate(45 156.5 122.0)"/>
<path d="M174 123.6V125.8M172.6 123.6h2.8M172.6 125.8h2.8" stroke="#f2cc98" stroke-width="0.7" opacity="0.55"/>
<rect x="172.4" y="123.1" width="3.2" height="3.2" fill="#f2cc98" transform="rotate(45 174 124.7)"/>
<path d="M193.5 124.7V126.5M192.1 124.7h2.8M192.1 126.5h2.8" stroke="#f2cc98" stroke-width="0.7" opacity="0.55"/>
<rect x="191.9" y="124.0" width="3.2" height="3.2" fill="#f2cc98" transform="rotate(45 193.5 125.6)"/>
<path d="M210.5 124.5V126.7M209.1 124.5h2.8M209.1 126.7h2.8" stroke="#f2cc98" stroke-width="0.7" opacity="0.55"/>
<rect x="208.9" y="124.0" width="3.2" height="3.2" fill="#f2cc98" transform="rotate(45 210.5 125.6)"/>
<rect x="158" y="5" width="60" height="78" fill="#fff"/>
<path d="M161.3 13.6H173" stroke="#9a6035" stroke-width="1" opacity="0.6"/>
<rect x="165.7" y="12.2" width="2.8" height="2.8" fill="#8a5530" transform="rotate(45 167.1 13.6)"/>
<text x="177.5" y="16.15" font-size="7.2" fill="#1e1e1e" text-anchor="start" textLength="27.3" lengthAdjust="spacingAndGlyphs" stroke="#1e1e1e" stroke-width="0.1">mCG2-1</text>
<path d="M161.3 26.2H173" stroke="#c88545" stroke-width="1" opacity="0.6"/>
<rect x="165.7" y="24.8" width="2.8" height="2.8" fill="#a87850" transform="rotate(45 167.1 26.2)"/>
<text x="177.5" y="28.75" font-size="7.2" fill="#1e1e1e" text-anchor="start" textLength="27.3" lengthAdjust="spacingAndGlyphs" stroke="#1e1e1e" stroke-width="0.1">mCG2-2</text>
<path d="M161.3 38.7H173" stroke="#e8b890" stroke-width="1" opacity="0.6"/>
<rect x="165.7" y="37.300000000000004" width="2.8" height="2.8" fill="#c8ab98" transform="rotate(45 167.1 38.7)"/>
<text x="177.5" y="41.25" font-size="7.2" fill="#1e1e1e" text-anchor="start" textLength="27.3" lengthAdjust="spacingAndGlyphs" stroke="#1e1e1e" stroke-width="0.1">mCG2-3</text>
<path d="M161.3 51.3H173" stroke="#dc9418" stroke-width="1" opacity="0.6"/>
<rect x="165.7" y="49.9" width="2.8" height="2.8" fill="#d8900c" transform="rotate(45 167.1 51.3)"/>
<text x="177.5" y="53.85" font-size="7.2" fill="#1e1e1e" text-anchor="start" textLength="27.3" lengthAdjust="spacingAndGlyphs" stroke="#1e1e1e" stroke-width="0.1">mCG2-4</text>
<path d="M161.3 63.9H173" stroke="#eba445" stroke-width="1" opacity="0.6"/>
<rect x="165.7" y="62.5" width="2.8" height="2.8" fill="#e8a048" transform="rotate(45 167.1 63.9)"/>
<text x="177.5" y="66.45" font-size="7.2" fill="#1e1e1e" text-anchor="start" textLength="27.3" lengthAdjust="spacingAndGlyphs" stroke="#1e1e1e" stroke-width="0.1">mCG2-5</text>
<path d="M161.3 76.4H173" stroke="#f0c080" stroke-width="1" opacity="0.6"/>
<rect x="165.7" y="75.0" width="2.8" height="2.8" fill="#f2cc98" transform="rotate(45 167.1 76.4)"/>
<text x="177.5" y="78.95" font-size="7.2" fill="#1e1e1e" text-anchor="start" textLength="27.3" lengthAdjust="spacingAndGlyphs" stroke="#1e1e1e" stroke-width="0.1">mCG2-6</text>
<text x="274.3" y="16.2" font-size="11.2" fill="#111" text-anchor="start" font-weight="bold">B</text>
<text x="274.8" y="51.9" font-size="7.8" fill="#1e1e1e" text-anchor="start" textLength="42.5" lengthAdjust="spacingAndGlyphs" stroke="#1e1e1e" stroke-width="0.12">0.5M <tspan fill="#4aa8dc">CG2-1</tspan></text>
<text x="387" y="24.8" font-size="7.7" fill="#1e1e1e" text-anchor="middle" textLength="29.6" lengthAdjust="spacingAndGlyphs" stroke="#1e1e1e" stroke-width="0.12">Bleeding</text>
<text x="387" y="34.2" font-size="7.7" fill="#1e1e1e" text-anchor="middle" textLength="60" lengthAdjust="spacingAndGlyphs" stroke="#1e1e1e" stroke-width="0.12">group assignment</text>
<text x="384.7" y="46.3" font-size="7.7" fill="#1e1e1e" text-anchor="middle" textLength="8.7" lengthAdjust="spacingAndGlyphs" stroke="#1e1e1e" stroke-width="0.12">d0</text>
<text x="491" y="31.5" font-size="7.7" fill="#1e1e1e" text-anchor="middle" textLength="29.3" lengthAdjust="spacingAndGlyphs" stroke="#1e1e1e" stroke-width="0.12">endpoint</text>
<text x="490.8" y="45.4" font-size="7.7" fill="#1e1e1e" text-anchor="middle" textLength="13.5" lengthAdjust="spacingAndGlyphs" stroke="#1e1e1e" stroke-width="0.12">d21</text>
<text x="441.4" y="62.7" font-size="7.7" fill="#d2308e" text-anchor="middle" textLength="51.3" lengthAdjust="spacingAndGlyphs" stroke="#d2308e" stroke-width="0.12">Navitoclax, 21d</text>
<text x="441.8" y="71" font-size="7.7" fill="#d2308e" text-anchor="middle" textLength="46" lengthAdjust="spacingAndGlyphs" stroke="#d2308e" stroke-width="0.12">100mg/kg po</text>
<text x="351.1" y="74.8" font-size="7.7" fill="#1e1e1e" text-anchor="middle" textLength="39.8" lengthAdjust="spacingAndGlyphs" stroke="#1e1e1e" stroke-width="0.12">engraftment</text>
<text x="350.8" y="87.6" font-size="7.7" fill="#1e1e1e" text-anchor="middle" textLength="28" lengthAdjust="spacingAndGlyphs" stroke="#1e1e1e" stroke-width="0.12">3 weeks</text>
<text x="396.1" y="101" font-size="7.7" fill="#4aa8dc" text-anchor="middle" textLength="30.2" lengthAdjust="spacingAndGlyphs" stroke="#4aa8dc" stroke-width="0.12">AraC, 5d</text>
<text x="396.2" y="110" font-size="7.7" fill="#4aa8dc" text-anchor="middle" textLength="38" lengthAdjust="spacingAndGlyphs" stroke="#4aa8dc" stroke-width="0.12">20mg/kg ip</text>
<path d="M321.5 78H380" stroke="#1a1a1a" stroke-width="1.1"/>
<path d="M378.5 75.3L384.5 78L378.5 80.7Z" fill="#1a1a1a"/>
<path d="M385 49V71" stroke="#1a1a1a" stroke-width="1.1"/>
<path d="M382.3 70L385 76.3L387.7 70Z" fill="#1a1a1a"/>
<path d="M491 48.8V70" stroke="#1a1a1a" stroke-width="1.1"/>
<path d="M488.3 69.3L491 76L493.7 69.3Z" fill="#1a1a1a"/>
<path d="M386 77.6H483" stroke="#a8609e" stroke-width="0.9" stroke-dasharray="0.9,1.3"/>
<path d="M482.8 74.8L489.4 77.5L482.8 80.3L484.3 77.5Z" fill="#3e1a50"/>
<path d="M387.6 82V91" stroke="#4aa8dc" stroke-width="0.8"/>
<path d="M386.3 82.6L387.6 79.7L388.90000000000003 82.6Z" fill="#2f86c0"/>
<path d="M391.9 82V91" stroke="#4aa8dc" stroke-width="0.8"/>
<path d="M390.59999999999997 82.6L391.9 79.7L393.2 82.6Z" fill="#2f86c0"/>
<path d="M396.2 82V91" stroke="#4aa8dc" stroke-width="0.8"/>
<path d="M394.9 82.6L396.2 79.7L397.5 82.6Z" fill="#2f86c0"/>
<path d="M400.6 82V91" stroke="#4aa8dc" stroke-width="0.8"/>
<path d="M399.3 82.6L400.6 79.7L401.90000000000003 82.6Z" fill="#2f86c0"/>
<path d="M404.9 82V91" stroke="#4aa8dc" stroke-width="0.8"/>
<path d="M403.59999999999997 82.6L404.9 79.7L406.2 82.6Z" fill="#2f86c0"/>
<g>
<path d="M281.5 72.5 C276 73.5 271.2 76 272.2 79.6 C273.3 82.4 285 81.6 297.5 78.4" fill="none" stroke="#e9a0a0" stroke-width="1.1" stroke-linecap="round"/>
<path d="M279.2 70.2 C279 64.5 284.5 60.2 292.5 59.4 C297.5 58.9 301.5 59 304.5 59.8 C308.5 60.2 313 61.6 317.8 64 C317 66.2 313.8 67.4 310.6 68.2 C308.6 71 305.4 73.3 301.4 74.8 C296 76.3 288 76.3 283.2 74.8 C280.6 73.8 279.3 72.2 279.2 70.2Z" fill="#f1f1f3" stroke="#cfcfd5" stroke-width="0.5"/>
<path d="M281.5 72.2 C286 75 296 75.4 303.5 72.6" fill="none" stroke="#dedee4" stroke-width="1.2"/>
<path d="M284 63 C289 60.5 297 60 303 61" fill="none" stroke="#e2e2e7" stroke-width="1.4"/>
<ellipse cx="305.2" cy="61" rx="1.9" ry="2.9" fill="#f2c8c8" stroke="#d9a4a4" stroke-width="0.4" transform="rotate(-10 305.2 61)"/>
<circle cx="311.3" cy="63.1" r="0.9" fill="#333"/>
<path d="M286.5 74.6 L285.6 76.3 L291 76.6" fill="none" stroke="#eea4a4" stroke-width="1.1" stroke-linecap="round"/>
<path d="M305.8 72 L305.2 75.6 L310.6 76" fill="none" stroke="#eea4a4" stroke-width="1.1" stroke-linecap="round"/>
<circle cx="317.6" cy="64.2" r="0.75" fill="#eea4a4"/>
</g>
<text x="6.8" y="189.3" font-size="11.2" fill="#111" text-anchor="start" font-weight="bold">C</text>
<text x="95.2" y="194.6" font-size="9.2" fill="#1e1e1e" text-anchor="middle" stroke="#1e1e1e" stroke-width="0.1">Blood</text>
<rect x="58.3" y="284.7" width="15" height="68.5" fill="#d3d3d7"/>
<text transform="translate(66.8,362.59999999999997) rotate(-45)" font-size="7.6" fill="#1e1e1e" text-anchor="end" stroke="#1e1e1e" stroke-width="0.05">Vehicle</text>
<rect x="80.8" y="337.5" width="15" height="15.7" fill="#92c6ec"/>
<text transform="translate(89.3,362.59999999999997) rotate(-45)" font-size="7.6" fill="#1e1e1e" text-anchor="end" stroke="#1e1e1e" stroke-width="0.05">AraC</text>
<rect x="103.4" y="327.9" width="15" height="25.3" fill="#ec5f9e"/>
<text transform="translate(111.9,362.59999999999997) rotate(-45)" font-size="7.6" fill="#1e1e1e" text-anchor="end" stroke="#1e1e1e" stroke-width="0.05">Navitoclax</text>
<text transform="translate(134.4,362.59999999999997) rotate(-45)" font-size="7.6" fill="#1e1e1e" text-anchor="end" stroke="#1e1e1e" stroke-width="0.05">AraC+Navitoclax</text>
<path d="M50.8 254V353.2H147.4" fill="none" stroke="#1a1a1a" stroke-width="1.1"/>
<path d="M47.9 353.20H50.8" stroke="#1a1a1a" stroke-width="1"/>
<text x="44.5" y="355.5" font-size="7.7" fill="#1e1e1e" text-anchor="end" textLength="4.45" lengthAdjust="spacingAndGlyphs" stroke="#1e1e1e" stroke-width="0.15">0</text>
<path d="M47.9 333.64H50.8" stroke="#1a1a1a" stroke-width="1"/>
<text x="44.5" y="335.94" font-size="7.7" fill="#1e1e1e" text-anchor="end" textLength="8.9" lengthAdjust="spacingAndGlyphs" stroke="#1e1e1e" stroke-width="0.15">20</text>
<path d="M47.9 314.08H50.8" stroke="#1a1a1a" stroke-width="1"/>
<text x="44.5" y="316.38" font-size="7.7" fill="#1e1e1e" text-anchor="end" textLength="8.9" lengthAdjust="spacingAndGlyphs" stroke="#1e1e1e" stroke-width="0.15">40</text>
<path d="M47.9 294.52H50.8" stroke="#1a1a1a" stroke-width="1"/>
<text x="44.5" y="296.82" font-size="7.7" fill="#1e1e1e" text-anchor="end" textLength="8.9" lengthAdjust="spacingAndGlyphs" stroke="#1e1e1e" stroke-width="0.15">60</text>
<path d="M47.9 274.96H50.8" stroke="#1a1a1a" stroke-width="1"/>
<text x="44.5" y="277.26" font-size="7.7" fill="#1e1e1e" text-anchor="end" textLength="8.9" lengthAdjust="spacingAndGlyphs" stroke="#1e1e1e" stroke-width="0.15">80</text>
<path d="M47.9 255.40H50.8" stroke="#1a1a1a" stroke-width="1"/>
<text x="44.5" y="257.7" font-size="7.7" fill="#1e1e1e" text-anchor="end" textLength="13.35" lengthAdjust="spacingAndGlyphs" stroke="#1e1e1e" stroke-width="0.15">100</text>
<path d="M65.8 353.2V356.2" stroke="#1a1a1a" stroke-width="0.9"/>
<path d="M88.3 353.2V356.2" stroke="#1a1a1a" stroke-width="0.9"/>
<path d="M110.9 353.2V356.2" stroke="#1a1a1a" stroke-width="0.9"/>
<path d="M133.4 353.2V356.2" stroke="#1a1a1a" stroke-width="0.9"/>
<path d="M65.8 284.7V275.9M62.3 275.9h7" stroke="#333" stroke-width="0.9"/>
<circle cx="65.8" cy="277.9" r="2.05" fill="#ffffff" stroke="#2a2a2a" stroke-width="1.05"/>
<circle cx="65.8" cy="282.8" r="2.05" fill="#ffffff" stroke="#2a2a2a" stroke-width="1.05"/>
<circle cx="65.8" cy="291.6" r="2.05" fill="#ffffff" stroke="#2a2a2a" stroke-width="1.05"/>
<path d="M88.3 337.5V325.4M84.8 325.4h7" stroke="#3a3a3a" stroke-width="0.9"/>
<circle cx="82.8" cy="324.3" r="2.05" fill="#4a9ab6" stroke="#0e3a50" stroke-width="1.05"/>
<circle cx="94.0" cy="326.2" r="2.05" fill="#4a9ab6" stroke="#0e3a50" stroke-width="1.05"/>
<circle cx="82.8" cy="339.8" r="2.05" fill="#4a9ab6" stroke="#0e3a50" stroke-width="1.05"/>
<circle cx="94.0" cy="343.5" r="2.05" fill="#4a9ab6" stroke="#0e3a50" stroke-width="1.05"/>
<circle cx="88.3" cy="351.0" r="2.05" fill="#4a9ab6" stroke="#0e3a50" stroke-width="1.05"/>
<path d="M110.9 327.9V309.8M107.4 309.8h7" stroke="#333" stroke-width="0.9"/>
<circle cx="110.9" cy="303.0" r="2.05" fill="#c02c6c" stroke="#5a0828" stroke-width="1.05"/>
<circle cx="110.9" cy="316.0" r="2.05" fill="#c02c6c" stroke="#5a0828" stroke-width="1.05"/>
<circle cx="110.9" cy="330.7" r="2.05" fill="#c02c6c" stroke="#5a0828" stroke-width="1.05"/>
<circle cx="110.9" cy="341.3" r="2.05" fill="#c02c6c" stroke="#5a0828" stroke-width="1.05"/>
<circle cx="110.9" cy="345.4" r="2.05" fill="#c02c6c" stroke="#5a0828" stroke-width="1.05"/>
<circle cx="129.2" cy="348.7" r="2.05" fill="#5aa850" stroke="#0a3a0a" stroke-width="1.05"/>
<circle cx="127.8" cy="351.8" r="2.05" fill="#5aa850" stroke="#0a3a0a" stroke-width="1.05"/>
<circle cx="131.1" cy="351.8" r="2.05" fill="#5aa850" stroke="#0a3a0a" stroke-width="1.05"/>
<circle cx="133.3" cy="349.6" r="2.05" fill="#5aa850" stroke="#0a3a0a" stroke-width="1.05"/>
<circle cx="135.9" cy="351.8" r="2.05" fill="#5aa850" stroke="#0a3a0a" stroke-width="1.05"/>
<circle cx="138.8" cy="351.5" r="2.05" fill="#5aa850" stroke="#0a3a0a" stroke-width="1.05"/>
<path d="M65.1 245V236.5H133.6V343.6" fill="none" stroke="#666" stroke-width="0.85"/>
<text x="99.4" y="237.1" font-size="7.2" fill="#333" text-anchor="middle" textLength="11.0" lengthAdjust="spacingAndGlyphs" font-weight="bold">****</text>
<path d="M65.1 259.7V251.9H111V259.7" fill="none" stroke="#666" stroke-width="0.85"/>
<text x="88.4" y="252.5" font-size="7.2" fill="#333" text-anchor="middle" textLength="11.0" lengthAdjust="spacingAndGlyphs" font-weight="bold">****</text>
<path d="M65.1 270.3V265.6H86.7V318.8" fill="none" stroke="#666" stroke-width="0.85"/>
<text x="76.1" y="266.2" font-size="7.2" fill="#333" text-anchor="middle" textLength="11.0" lengthAdjust="spacingAndGlyphs" font-weight="bold">****</text>
<path d="M89.9 318.8V265.6H111V297.7" fill="none" stroke="#666" stroke-width="0.85"/>
<text x="100.4" y="263.2" font-size="7.4" fill="#333" text-anchor="middle" stroke="#333" stroke-width="0.1">ns</text>
<text x="229.1" y="194.6" font-size="9.2" fill="#1e1e1e" text-anchor="middle" stroke="#1e1e1e" stroke-width="0.1">BM</text>
<rect x="187.5" y="272.8" width="15" height="80.4" fill="#d3d3d7"/>
<text transform="translate(196.0,362.59999999999997) rotate(-45)" font-size="7.6" fill="#1e1e1e" text-anchor="end" stroke="#1e1e1e" stroke-width="0.05">Vehicle</text>
<rect x="210.1" y="319.8" width="15" height="33.4" fill="#92c6ec"/>
<text transform="translate(218.6,362.59999999999997) rotate(-45)" font-size="7.6" fill="#1e1e1e" text-anchor="end" stroke="#1e1e1e" stroke-width="0.05">AraC</text>
<rect x="232.6" y="323.1" width="15" height="30.1" fill="#ec5f9e"/>
<text transform="translate(241.1,362.59999999999997) rotate(-45)" font-size="7.6" fill="#1e1e1e" text-anchor="end" stroke="#1e1e1e" stroke-width="0.05">Navitoclax</text>
<rect x="255.1" y="350.3" width="15" height="2.9" fill="#96d884"/>
<text transform="translate(263.6,362.59999999999997) rotate(-45)" font-size="7.6" fill="#1e1e1e" text-anchor="end" stroke="#1e1e1e" stroke-width="0.05">AraC+Navitoclax</text>
<path d="M180.0 254V353.2H277.5" fill="none" stroke="#1a1a1a" stroke-width="1.1"/>
<path d="M177.1 353.20H180.0" stroke="#1a1a1a" stroke-width="1"/>
<text x="173.7" y="355.5" font-size="7.7" fill="#1e1e1e" text-anchor="end" textLength="4.45" lengthAdjust="spacingAndGlyphs" stroke="#1e1e1e" stroke-width="0.15">0</text>
<path d="M177.1 333.64H180.0" stroke="#1a1a1a" stroke-width="1"/>
<text x="173.7" y="335.94" font-size="7.7" fill="#1e1e1e" text-anchor="end" textLength="8.9" lengthAdjust="spacingAndGlyphs" stroke="#1e1e1e" stroke-width="0.15">20</text>
<path d="M177.1 314.08H180.0" stroke="#1a1a1a" stroke-width="1"/>
<text x="173.7" y="316.38" font-size="7.7" fill="#1e1e1e" text-anchor="end" textLength="8.9" lengthAdjust="spacingAndGlyphs" stroke="#1e1e1e" stroke-width="0.15">40</text>
<path d="M177.1 294.52H180.0" stroke="#1a1a1a" stroke-width="1"/>
<text x="173.7" y="296.82" font-size="7.7" fill="#1e1e1e" text-anchor="end" textLength="8.9" lengthAdjust="spacingAndGlyphs" stroke="#1e1e1e" stroke-width="0.15">60</text>
<path d="M177.1 274.96H180.0" stroke="#1a1a1a" stroke-width="1"/>
<text x="173.7" y="277.26" font-size="7.7" fill="#1e1e1e" text-anchor="end" textLength="8.9" lengthAdjust="spacingAndGlyphs" stroke="#1e1e1e" stroke-width="0.15">80</text>
<path d="M177.1 255.40H180.0" stroke="#1a1a1a" stroke-width="1"/>
<text x="173.7" y="257.7" font-size="7.7" fill="#1e1e1e" text-anchor="end" textLength="13.35" lengthAdjust="spacingAndGlyphs" stroke="#1e1e1e" stroke-width="0.15">100</text>
<path d="M195.0 353.2V356.2" stroke="#1a1a1a" stroke-width="0.9"/>
<path d="M217.6 353.2V356.2" stroke="#1a1a1a" stroke-width="0.9"/>
<path d="M240.1 353.2V356.2" stroke="#1a1a1a" stroke-width="0.9"/>
<path d="M262.6 353.2V356.2" stroke="#1a1a1a" stroke-width="0.9"/>
<path d="M195.0 272.8V266.1M191.5 266.1h7" stroke="#333" stroke-width="0.9"/>
<circle cx="189.2" cy="267.1" r="2.05" fill="#ffffff" stroke="#2a2a2a" stroke-width="1.05"/>
<circle cx="200.3" cy="270.1" r="2.05" fill="#ffffff" stroke="#2a2a2a" stroke-width="1.05"/>
<circle cx="195.0" cy="282.2" r="2.05" fill="#ffffff" stroke="#2a2a2a" stroke-width="1.05"/>
<path d="M217.6 319.8V302.8M214.1 302.8h7" stroke="#3a3a3a" stroke-width="0.9"/>
<circle cx="217.6" cy="303.3" r="2.05" fill="#4a9ab6" stroke="#0e3a50" stroke-width="1.05"/>
<circle cx="217.6" cy="308.2" r="2.05" fill="#4a9ab6" stroke="#0e3a50" stroke-width="1.05"/>
<circle cx="217.6" cy="313.1" r="2.05" fill="#4a9ab6" stroke="#0e3a50" stroke-width="1.05"/>
<circle cx="217.6" cy="328.8" r="2.05" fill="#4a9ab6" stroke="#0e3a50" stroke-width="1.05"/>
<circle cx="217.6" cy="342.6" r="2.05" fill="#4a9ab6" stroke="#0e3a50" stroke-width="1.05"/>
<path d="M240.1 323.1V309.8M236.6 309.8h7" stroke="#333" stroke-width="0.9"/>
<circle cx="240.1" cy="304.8" r="2.05" fill="#c02c6c" stroke="#5a0828" stroke-width="1.05"/>
<circle cx="240.1" cy="316.7" r="2.05" fill="#c02c6c" stroke="#5a0828" stroke-width="1.05"/>
<circle cx="240.1" cy="322.9" r="2.05" fill="#c02c6c" stroke="#5a0828" stroke-width="1.05"/>
<circle cx="240.1" cy="332.2" r="2.05" fill="#c02c6c" stroke="#5a0828" stroke-width="1.05"/>
<circle cx="240.1" cy="338.0" r="2.05" fill="#c02c6c" stroke="#5a0828" stroke-width="1.05"/>
<circle cx="260.6" cy="345.3" r="2.05" fill="#5aa850" stroke="#0a3a0a" stroke-width="1.05"/>
<circle cx="269.0" cy="347.0" r="2.05" fill="#5aa850" stroke="#0a3a0a" stroke-width="1.05"/>
<circle cx="257.2" cy="350.6" r="2.05" fill="#5aa850" stroke="#0a3a0a" stroke-width="1.05"/>
<circle cx="261.0" cy="350.4" r="2.05" fill="#5aa850" stroke="#0a3a0a" stroke-width="1.05"/>
<circle cx="263.4" cy="350.9" r="2.05" fill="#5aa850" stroke="#0a3a0a" stroke-width="1.05"/>
<circle cx="266.6" cy="350.6" r="2.05" fill="#5aa850" stroke="#0a3a0a" stroke-width="1.05"/>
<circle cx="269.2" cy="352.0" r="2.05" fill="#5aa850" stroke="#0a3a0a" stroke-width="1.05"/>
<path d="M195.2 233.3V210.9H262.6V339" fill="none" stroke="#666" stroke-width="0.85"/>
<text x="228.7" y="211.5" font-size="7.2" fill="#333" text-anchor="middle" textLength="11.0" lengthAdjust="spacingAndGlyphs" font-weight="bold">****</text>
<path d="M217.5 231V224.7H262.6V339" fill="none" stroke="#666" stroke-width="0.85"/>
<text x="240.2" y="225.3" font-size="7.2" fill="#333" text-anchor="middle" textLength="5.5" lengthAdjust="spacingAndGlyphs" font-weight="bold">**</text>
<path d="M195.2 246.8V239.5H240.2V246.8" fill="none" stroke="#666" stroke-width="0.85"/>
<text x="217.5" y="240.1" font-size="7.2" fill="#333" text-anchor="middle" textLength="11.0" lengthAdjust="spacingAndGlyphs" font-weight="bold">****</text>
<path d="M195.2 258.7V253.3H215.7V300.2" fill="none" stroke="#666" stroke-width="0.85"/>
<text x="205.8" y="253.9" font-size="7.2" fill="#333" text-anchor="middle" textLength="8.25" lengthAdjust="spacingAndGlyphs" font-weight="bold">***</text>
<path d="M219.6 300.2V253.3H238.3V300.2" fill="none" stroke="#666" stroke-width="0.85"/>
<text x="229.2" y="250.9" font-size="7.4" fill="#333" text-anchor="middle" stroke="#333" stroke-width="0.1">ns</text>
<path d="M242.2 298.3V253.3H262.6V339" fill="none" stroke="#666" stroke-width="0.85"/>
<text x="252.1" y="253.9" font-size="7.2" fill="#333" text-anchor="middle" textLength="5.5" lengthAdjust="spacingAndGlyphs" font-weight="bold">**</text>
<text x="355.8" y="194.6" font-size="9.2" fill="#1e1e1e" text-anchor="middle" stroke="#1e1e1e" stroke-width="0.1">Spleen</text>
<rect x="314.4" y="273.4" width="15" height="79.8" fill="#d3d3d7"/>
<text transform="translate(322.9,362.59999999999997) rotate(-45)" font-size="7.6" fill="#1e1e1e" text-anchor="end" stroke="#1e1e1e" stroke-width="0.05">Vehicle</text>
<rect x="336.9" y="303.3" width="15" height="49.9" fill="#92c6ec"/>
<text transform="translate(345.4,362.59999999999997) rotate(-45)" font-size="7.6" fill="#1e1e1e" text-anchor="end" stroke="#1e1e1e" stroke-width="0.05">AraC</text>
<rect x="359.5" y="311.1" width="15" height="42.1" fill="#ec5f9e"/>
<text transform="translate(368.0,362.59999999999997) rotate(-45)" font-size="7.6" fill="#1e1e1e" text-anchor="end" stroke="#1e1e1e" stroke-width="0.05">Navitoclax</text>
<rect x="382.0" y="344.4" width="15" height="8.8" fill="#96d884"/>
<text transform="translate(390.5,362.59999999999997) rotate(-45)" font-size="7.6" fill="#1e1e1e" text-anchor="end" stroke="#1e1e1e" stroke-width="0.05">AraC+Navitoclax</text>
<path d="M306.9 254V353.2H404" fill="none" stroke="#1a1a1a" stroke-width="1.1"/>
<path d="M304.0 353.20H306.9" stroke="#1a1a1a" stroke-width="1"/>
<text x="300.59999999999997" y="355.5" font-size="7.7" fill="#1e1e1e" text-anchor="end" textLength="4.45" lengthAdjust="spacingAndGlyphs" stroke="#1e1e1e" stroke-width="0.15">0</text>
<path d="M304.0 333.64H306.9" stroke="#1a1a1a" stroke-width="1"/>
<text x="300.59999999999997" y="335.94" font-size="7.7" fill="#1e1e1e" text-anchor="end" textLength="8.9" lengthAdjust="spacingAndGlyphs" stroke="#1e1e1e" stroke-width="0.15">20</text>
<path d="M304.0 314.08H306.9" stroke="#1a1a1a" stroke-width="1"/>
<text x="300.59999999999997" y="316.38" font-size="7.7" fill="#1e1e1e" text-anchor="end" textLength="8.9" lengthAdjust="spacingAndGlyphs" stroke="#1e1e1e" stroke-width="0.15">40</text>
<path d="M304.0 294.52H306.9" stroke="#1a1a1a" stroke-width="1"/>
<text x="300.59999999999997" y="296.82" font-size="7.7" fill="#1e1e1e" text-anchor="end" textLength="8.9" lengthAdjust="spacingAndGlyphs" stroke="#1e1e1e" stroke-width="0.15">60</text>
<path d="M304.0 274.96H306.9" stroke="#1a1a1a" stroke-width="1"/>
<text x="300.59999999999997" y="277.26" font-size="7.7" fill="#1e1e1e" text-anchor="end" textLength="8.9" lengthAdjust="spacingAndGlyphs" stroke="#1e1e1e" stroke-width="0.15">80</text>
<path d="M304.0 255.40H306.9" stroke="#1a1a1a" stroke-width="1"/>
<text x="300.59999999999997" y="257.7" font-size="7.7" fill="#1e1e1e" text-anchor="end" textLength="13.35" lengthAdjust="spacingAndGlyphs" stroke="#1e1e1e" stroke-width="0.15">100</text>
<path d="M321.9 353.2V356.2" stroke="#1a1a1a" stroke-width="0.9"/>
<path d="M344.4 353.2V356.2" stroke="#1a1a1a" stroke-width="0.9"/>
<path d="M367.0 353.2V356.2" stroke="#1a1a1a" stroke-width="0.9"/>
<path d="M389.5 353.2V356.2" stroke="#1a1a1a" stroke-width="0.9"/>
<path d="M321.9 272.5V268.1M318.4 268.1h7" stroke="#333" stroke-width="0.9"/>
<circle cx="321.9" cy="266.2" r="2.05" fill="#ffffff" stroke="#2a2a2a" stroke-width="1.05"/>
<circle cx="316.0" cy="276.3" r="2.05" fill="#ffffff" stroke="#2a2a2a" stroke-width="1.05"/>
<circle cx="327.7" cy="275.0" r="2.05" fill="#ffffff" stroke="#2a2a2a" stroke-width="1.05"/>
<path d="M344.4 303.3V289.1M340.9 289.1h7" stroke="#3a3a3a" stroke-width="0.9"/>
<circle cx="344.4" cy="285.2" r="2.05" fill="#4a9ab6" stroke="#0e3a50" stroke-width="1.05"/>
<circle cx="344.4" cy="295.5" r="2.05" fill="#4a9ab6" stroke="#0e3a50" stroke-width="1.05"/>
<circle cx="344.4" cy="300.4" r="2.05" fill="#4a9ab6" stroke="#0e3a50" stroke-width="1.05"/>
<circle cx="344.4" cy="313.1" r="2.05" fill="#4a9ab6" stroke="#0e3a50" stroke-width="1.05"/>
<circle cx="344.4" cy="323.4" r="2.05" fill="#4a9ab6" stroke="#0e3a50" stroke-width="1.05"/>
<path d="M367.0 311.1V301.4M363.5 301.4h7" stroke="#333" stroke-width="0.9"/>
<circle cx="367.0" cy="294.2" r="2.05" fill="#c02c6c" stroke="#5a0828" stroke-width="1.05"/>
<circle cx="361.8" cy="313.1" r="2.05" fill="#c02c6c" stroke="#5a0828" stroke-width="1.05"/>
<circle cx="372.3" cy="310.2" r="2.05" fill="#c02c6c" stroke="#5a0828" stroke-width="1.05"/>
<circle cx="372.9" cy="315.5" r="2.05" fill="#c02c6c" stroke="#5a0828" stroke-width="1.05"/>
<circle cx="366.8" cy="321.1" r="2.05" fill="#c02c6c" stroke="#5a0828" stroke-width="1.05"/>
<path d="M389.5 344.4V342.4M386.0 342.4h7" stroke="#1a3a1a" stroke-width="0.9"/>
<circle cx="384.7" cy="344.9" r="2.05" fill="#5aa850" stroke="#0a3a0a" stroke-width="1.05"/>
<circle cx="386.8" cy="343.1" r="2.05" fill="#5aa850" stroke="#0a3a0a" stroke-width="1.05"/>
<circle cx="389.1" cy="344.0" r="2.05" fill="#5aa850" stroke="#0a3a0a" stroke-width="1.05"/>
<circle cx="393.2" cy="342.0" r="2.05" fill="#5aa850" stroke="#0a3a0a" stroke-width="1.05"/>
<circle cx="396.0" cy="344.0" r="2.05" fill="#5aa850" stroke="#0a3a0a" stroke-width="1.05"/>
<circle cx="393.5" cy="347.0" r="2.05" fill="#5aa850" stroke="#0a3a0a" stroke-width="1.05"/>
<path d="M321.6 235.1V212.2H389.3V340.5" fill="none" stroke="#666" stroke-width="0.85"/>
<text x="355.4" y="212.8" font-size="7.2" fill="#333" text-anchor="middle" textLength="11.0" lengthAdjust="spacingAndGlyphs" font-weight="bold">****</text>
<path d="M343.7 231.2V226H389.3V340.5" fill="none" stroke="#666" stroke-width="0.85"/>
<text x="366.6" y="226.6" font-size="7.2" fill="#333" text-anchor="middle" textLength="11.0" lengthAdjust="spacingAndGlyphs" font-weight="bold">****</text>
<path d="M321.6 248.1V240.3H366.6V248.1" fill="none" stroke="#666" stroke-width="0.85"/>
<text x="344.5" y="240.9" font-size="7.2" fill="#333" text-anchor="middle" textLength="8.25" lengthAdjust="spacingAndGlyphs" font-weight="bold">***</text>
<path d="M321.6 262.4V255.2H342.7V279.3" fill="none" stroke="#666" stroke-width="0.85"/>
<text x="331.5" y="255.8" font-size="7.2" fill="#333" text-anchor="middle" textLength="5.5" lengthAdjust="spacingAndGlyphs" font-weight="bold">**</text>
<path d="M346.3 278.8V255.2H365.1V288.4" fill="none" stroke="#666" stroke-width="0.85"/>
<text x="355.7" y="252.8" font-size="7.4" fill="#333" text-anchor="middle" stroke="#333" stroke-width="0.1">ns</text>
<path d="M369.2 288.4V255.2H389.3V340" fill="none" stroke="#666" stroke-width="0.85"/>
<text x="379.1" y="255.8" font-size="7.2" fill="#333" text-anchor="middle" textLength="11.0" lengthAdjust="spacingAndGlyphs" font-weight="bold">****</text>
<text transform="translate(25.3,301.6) rotate(-90)" font-size="8.2" fill="#1e1e1e" text-anchor="middle" textLength="64" lengthAdjust="spacingAndGlyphs" stroke="#1e1e1e" stroke-width="0.25">%GFP+ hCD45+ cells</text>
<circle cx="413.2" cy="249.2" r="2.05" fill="#ffffff" stroke="#2a2a2a" stroke-width="1.05"/>
<text x="418" y="251.8" font-size="7.25" fill="#1e1e1e" text-anchor="start" textLength="46" lengthAdjust="spacingAndGlyphs" stroke="#1e1e1e" stroke-width="0.1">Vehicle + PBS</text>
<circle cx="413.2" cy="262.2" r="2.05" fill="#4a9ab6" stroke="#0e3a50" stroke-width="1.05"/>
<text x="418" y="264.8" font-size="7.25" fill="#1e1e1e" text-anchor="start" textLength="82.9" lengthAdjust="spacingAndGlyphs" stroke="#1e1e1e" stroke-width="0.1">AraC (20mg/kg) + Vehicle</text>
<circle cx="413.2" cy="275" r="2.05" fill="#c02c6c" stroke="#5a0828" stroke-width="1.05"/>
<text x="418" y="277.6" font-size="7.25" fill="#1e1e1e" text-anchor="start" textLength="95.1" lengthAdjust="spacingAndGlyphs" stroke="#1e1e1e" stroke-width="0.1">Navitoclax (100mg/kg) + PBS</text>
<circle cx="413.2" cy="288" r="2.05" fill="#5aa850" stroke="#0a3a0a" stroke-width="1.05"/>
<text x="418" y="290.6" font-size="7.25" fill="#1e1e1e" text-anchor="start" textLength="51.2" lengthAdjust="spacingAndGlyphs" stroke="#1e1e1e" stroke-width="0.1">AraC (20mg/kg)</text>
<text x="418.5" y="298.6" font-size="7.25" fill="#1e1e1e" text-anchor="start" textLength="77.3" lengthAdjust="spacingAndGlyphs" stroke="#1e1e1e" stroke-width="0.1">+ Navitoclax (100mg/kg)</text>
<text x="6.8" y="433" font-size="11.2" fill="#111" text-anchor="start" font-weight="bold">D</text>
<path d="M47.4 555.20H50.9" stroke="#1a1a1a" stroke-width="0.9"/>
<text x="45.1" y="557.5" font-size="7.7" fill="#1e1e1e" text-anchor="end" textLength="4.35" lengthAdjust="spacingAndGlyphs" stroke="#1e1e1e" stroke-width="0.15">0</text>
<path d="M47.4 532.10H50.9" stroke="#1a1a1a" stroke-width="0.9"/>
<text x="45.1" y="534.4" font-size="7.7" fill="#1e1e1e" text-anchor="end" textLength="8.7" lengthAdjust="spacingAndGlyphs" stroke="#1e1e1e" stroke-width="0.15">20</text>
<path d="M47.4 509.00H50.9" stroke="#1a1a1a" stroke-width="0.9"/>
<text x="45.1" y="511.3" font-size="7.7" fill="#1e1e1e" text-anchor="end" textLength="8.7" lengthAdjust="spacingAndGlyphs" stroke="#1e1e1e" stroke-width="0.15">40</text>
<path d="M47.4 485.90H50.9" stroke="#1a1a1a" stroke-width="0.9"/>
<text x="45.1" y="488.2" font-size="7.7" fill="#1e1e1e" text-anchor="end" textLength="8.7" lengthAdjust="spacingAndGlyphs" stroke="#1e1e1e" stroke-width="0.15">60</text>
<path d="M47.4 462.80H50.9" stroke="#1a1a1a" stroke-width="0.9"/>
<text x="45.1" y="465.1" font-size="7.7" fill="#1e1e1e" text-anchor="end" textLength="8.7" lengthAdjust="spacingAndGlyphs" stroke="#1e1e1e" stroke-width="0.15">80</text>
<path d="M47.4 439.70H50.9" stroke="#1a1a1a" stroke-width="0.9"/>
<text x="45.1" y="442.0" font-size="7.7" fill="#1e1e1e" text-anchor="end" textLength="13.05" lengthAdjust="spacingAndGlyphs" stroke="#1e1e1e" stroke-width="0.15">100</text>
<path d="M70.6 555.2V557.8000000000001" stroke="#1a1a1a" stroke-width="0.9"/>
<path d="M101.3 555.2V557.8000000000001" stroke="#1a1a1a" stroke-width="0.9"/>
<path d="M50.9 438V555.2H121.5" fill="none" stroke="#1a1a1a" stroke-width="1.1"/>
<text x="70.6" y="568.4" font-size="7.2" fill="#1e1e1e" text-anchor="middle" textLength="23.6" lengthAdjust="spacingAndGlyphs" stroke="#1e1e1e" stroke-width="0.12">Vehicle</text>
<text x="101.5" y="568.4" font-size="7.2" fill="#1e1e1e" text-anchor="middle" textLength="23.3" lengthAdjust="spacingAndGlyphs" stroke="#1e1e1e" stroke-width="0.12">treated</text>
<text transform="translate(27.4,496) rotate(-90)" font-size="8.2" fill="#1e1e1e" text-anchor="middle" textLength="64.8" lengthAdjust="spacingAndGlyphs" stroke="#1e1e1e" stroke-width="0.25">%GFP+ hCD45+ cells</text>
<path d="M70.6 471.5V462.8M67.8 471.5h5.6M67.8 462.8h5.6" stroke="#eaa52a" stroke-width="0.9"/>
<path d="M101.3 492.3V468.8M98.5 492.3h5.6M98.5 468.8h5.6" stroke="#eaa52a" stroke-width="0.9"/>
<path d="M70.6 462.8V454.4M67.8 462.8h5.6M67.8 454.4h5.6" stroke="#5a2a6a" stroke-width="0.9"/>
<path d="M101.3 525.7V512.5M98.5 525.7h5.6M98.5 512.5h5.6" stroke="#5a2a6a" stroke-width="0.9"/>
<path d="M70.6 463.4L101.3 480.6M70.6 463.4L101.3 517.7" stroke="#222" stroke-width="1"/>
<rect x="68.1" y="460.9" width="5.0" height="5.0" fill="#c8781a" stroke="#5a2a10" stroke-width="0.9"/>
<path d="M67.89999999999999 456.7H73.3L70.6 461.3Z" fill="#7a2a5a" stroke="#3a1030" stroke-width="0.9"/>
<rect x="98.8" y="478.1" width="5.0" height="5.0" fill="#e0901a" stroke="#5a3010" stroke-width="0.9"/>
<path d="M98.6 515.6H104.0L101.3 520.2Z" fill="#7a2a5a" stroke="#3a1030" stroke-width="0.9"/>
<path d="M118.8 495.7H130.9M118.8 507H130.9" stroke="#222" stroke-width="1"/>
<rect x="122.44999999999999" y="493.3" width="4.8" height="4.8" fill="#e0901a" stroke="#5a3010" stroke-width="0.9"/>
<path d="M122.5 505.1H127.5L125 509.4Z" fill="#7a2a5a" stroke="#3a1030" stroke-width="0.9"/>
<text x="134.7" y="497.6" font-size="7.2" fill="#1e1e1e" text-anchor="start" textLength="26" lengthAdjust="spacingAndGlyphs" stroke="#1e1e1e" stroke-width="0.12">DT2216</text>
<text x="134.7" y="509.3" font-size="7.2" fill="#1e1e1e" text-anchor="start" textLength="19.7" lengthAdjust="spacingAndGlyphs" stroke="#1e1e1e" stroke-width="0.12">Navito</text>
<text x="182.8" y="433" font-size="11.2" fill="#111" text-anchor="start" font-weight="bold">E</text>
<path d="M219.3 555.20H222.8" stroke="#1a1a1a" stroke-width="0.9"/>
<text x="217.0" y="557.5" font-size="7.7" fill="#1e1e1e" text-anchor="end" textLength="4.35" lengthAdjust="spacingAndGlyphs" stroke="#1e1e1e" stroke-width="0.15">0</text>
<path d="M219.3 532.10H222.8" stroke="#1a1a1a" stroke-width="0.9"/>
<text x="217.0" y="534.4" font-size="7.7" fill="#1e1e1e" text-anchor="end" textLength="8.7" lengthAdjust="spacingAndGlyphs" stroke="#1e1e1e" stroke-width="0.15">20</text>
<path d="M219.3 509.00H222.8" stroke="#1a1a1a" stroke-width="0.9"/>
<text x="217.0" y="511.3" font-size="7.7" fill="#1e1e1e" text-anchor="end" textLength="8.7" lengthAdjust="spacingAndGlyphs" stroke="#1e1e1e" stroke-width="0.15">40</text>
<path d="M219.3 485.90H222.8" stroke="#1a1a1a" stroke-width="0.9"/>
<text x="217.0" y="488.2" font-size="7.7" fill="#1e1e1e" text-anchor="end" textLength="8.7" lengthAdjust="spacingAndGlyphs" stroke="#1e1e1e" stroke-width="0.15">60</text>
<path d="M219.3 462.80H222.8" stroke="#1a1a1a" stroke-width="0.9"/>
<text x="217.0" y="465.1" font-size="7.7" fill="#1e1e1e" text-anchor="end" textLength="8.7" lengthAdjust="spacingAndGlyphs" stroke="#1e1e1e" stroke-width="0.15">80</text>
<path d="M219.3 439.70H222.8" stroke="#1a1a1a" stroke-width="0.9"/>
<text x="217.0" y="442.0" font-size="7.7" fill="#1e1e1e" text-anchor="end" textLength="13.05" lengthAdjust="spacingAndGlyphs" stroke="#1e1e1e" stroke-width="0.15">100</text>
<path d="M243.4 555.2V557.8000000000001" stroke="#1a1a1a" stroke-width="0.9"/>
<path d="M273.6 555.2V557.8000000000001" stroke="#1a1a1a" stroke-width="0.9"/>
<path d="M222.8 438V555.2H294.6" fill="none" stroke="#1a1a1a" stroke-width="1.1"/>
<text x="243.4" y="568.4" font-size="7.2" fill="#1e1e1e" text-anchor="middle" textLength="23.6" lengthAdjust="spacingAndGlyphs" stroke="#1e1e1e" stroke-width="0.12">Vehicle</text>
<text x="273.8" y="568.4" font-size="7.2" fill="#1e1e1e" text-anchor="middle" textLength="23.3" lengthAdjust="spacingAndGlyphs" stroke="#1e1e1e" stroke-width="0.12">treated</text>
<text transform="translate(197.4,495.5) rotate(-90)" font-size="8.2" fill="#1e1e1e" text-anchor="middle" textLength="64.8" lengthAdjust="spacingAndGlyphs" stroke="#1e1e1e" stroke-width="0.25">%GFP+ hCD45+ cells</text>
<path d="M243.4 470.2V462.8M240.9 470.2h5.0M240.9 462.8h5.0" stroke="#4a4a8a" stroke-width="0.9"/>
<path d="M243.4 459.3V454.7M240.9 459.3h5.0M240.9 454.7h5.0" stroke="#2a7a2a" stroke-width="0.9"/>
<path d="M273.6 543.7V536.1M271.1 543.7h5.0M271.1 536.1h5.0" stroke="#4a4a8a" stroke-width="0.9"/>
<path d="M243.4 463.4L273.6 539.8M243.4 458.8L273.6 548.7" stroke="#222" stroke-width="1"/>
<rect x="241.0" y="461.0" width="4.8" height="4.8" fill="#7a78b8" stroke="#2a2a5a" stroke-width="0.9"/>
<path d="M240.9 456.9H245.9L243.4 461.1Z" fill="#3a9a3a" stroke="#1a3a1a" stroke-width="0.9"/>
<rect x="271.20000000000005" y="537.4" width="4.8" height="4.8" fill="#7a78b8" stroke="#2a2a5a" stroke-width="0.9"/>
<path d="M271.1 546.9H276.1L273.6 551.1Z" fill="#3a9a3a" stroke="#1a3a1a" stroke-width="0.9"/>
<path d="M283 495.2H294.6M283 507.5H294.6" stroke="#222" stroke-width="1"/>
<rect x="287.09999999999997" y="492.9" width="4.6" height="4.6" fill="#7a78b8" stroke="#2a2a5a" stroke-width="0.9"/>
<path d="M286.9 505.6H291.9L289.4 509.9Z" fill="#3a9a3a" stroke="#1a3a1a" stroke-width="0.9"/>
<text x="299" y="497.4" font-size="7.2" fill="#1e1e1e" text-anchor="start" textLength="51.6" lengthAdjust="spacingAndGlyphs" stroke="#1e1e1e" stroke-width="0.12">DT2216 + AraC</text>
<text x="299" y="509.7" font-size="7.2" fill="#1e1e1e" text-anchor="start" textLength="45.3" lengthAdjust="spacingAndGlyphs" stroke="#1e1e1e" stroke-width="0.12">Navito + AraC</text>
<rect x="0" y="0" width="520" height="1.05" fill="#5a5a5a"/>
<rect x="0" y="0" width="1.1" height="577" fill="#5c5c5c"/>
<rect x="518.7" y="0" width="1.3" height="577" fill="#3a3a3a"/>
<rect x="0" y="575.35" width="520" height="1.65" fill="#444"/>
</svg></body></html>
